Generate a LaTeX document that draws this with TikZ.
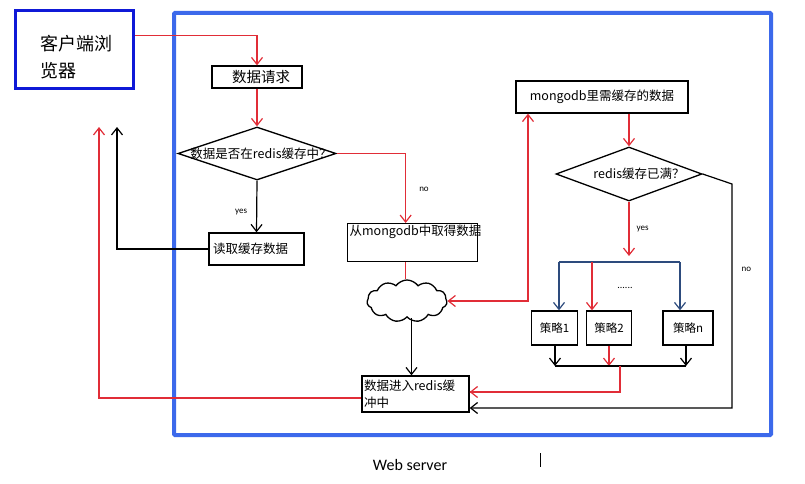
\documentclass[tikz,border=0pt]{standalone}
\usepackage{fontspec}
\setmainfont{Noto Sans CJK SC}
\newfontfamily\latinfont{Carlito}
\usetikzlibrary{arrows.meta,shapes.geometric,shapes.symbols}
\definecolor{flowRed}{RGB}{225,45,55}
\definecolor{frameBlue}{RGB}{60,105,235}
\definecolor{clientBlue}{RGB}{15,25,215}
\definecolor{branchBlue}{RGB}{45,75,125}

\tikzset{
  flowbox/.style={draw, line width=1.3pt, inner sep=2pt, font=\fontsize{12.5}{17}\selectfont},
  decision/.style={draw, diamond, line width=1.3pt, inner sep=0pt},
  boxtext/.style={font=\fontsize{12.5}{15}\selectfont, inner sep=0pt},
  smalllabel/.style={font=\latinfont\fontsize{9}{11}\selectfont, inner sep=1pt},
  barb/.style={-{Straight Barb[length=7pt,width=11pt]}},
  redline/.style={line width=1.2pt, draw=flowRed},
  redarrow/.style={redline, barb},
  blackline/.style={line width=1.2pt, draw=black},
  blackarrow/.style={blackline, barb},
  blueline/.style={line width=1.2pt, draw=branchBlue},
  bluearrow/.style={blueline, barb},
}

\begin{document}
\begin{tikzpicture}[x=1pt,y=-1pt]
  \useasboundingbox (0,0) rectangle (805,484);

  % web server frame and client
  \draw[line width=4pt, frameBlue, rounded corners=1pt] (174,13) rectangle (771,435);
  \node[draw=clientBlue, line width=3pt, minimum width=118pt, minimum height=78pt, anchor=north west] (client) at (14,9) {};
  \node[font=\fontsize{18}{27}\selectfont, align=left, anchor=west, inner sep=0pt] (clientText) at (40,57) {客户端浏\\览器};

  % left column
  \node[flowbox, font=\fontsize{14.5}{17}\selectfont, minimum width=90pt, minimum height=22pt] (request) at (257,77) {\hspace{8pt}数据请求};
  \node[decision, minimum width=158pt, minimum height=53pt] (inCache) at (257,153.5) {};
  \node[boxtext] (inCacheText) at ([xshift=4pt]inCache.center) {数据是否在redis缓存中？};
  \node[flowbox, text width=87pt, align=left, minimum height=32pt, inner xsep=4pt] (readCache) at (256.5,249) {读取缓存数据};

  % middle column
  \node[flowbox, text width=126pt, align=left, text height=10pt, text depth=24pt, anchor=north west] (mongoFetch) at (347,223) {从mongodb中取得数据};
  \node[cloud, draw, line width=1.3pt, cloud puffs=11, cloud puff arc=110, aspect=2, minimum width=80pt, minimum height=42pt, inner sep=0pt] (cloud) at (407,301) {};
  \node[flowbox, text width=103pt, align=left, minimum height=36pt] (storeCache) at (415.5,394) {数据进入redis缓\\冲中};

  % right column
  \node[flowbox, minimum width=172pt, minimum height=32pt] (mongoCache) at (602,97) {mongodb里需缓存的数据};
  \node[decision, minimum width=146pt, minimum height=54pt] (full) at (629,174) {};
  \node[boxtext] (fullText) at ([xshift=10pt]full.center) {redis缓存已满？};
  \node[flowbox, font=\fontsize{11.5}{14}\selectfont, minimum width=46pt, minimum height=34pt] (plan1) at (554.5,328) {策略1};
  \node[flowbox, font=\fontsize{11.5}{14}\selectfont, minimum width=45pt, minimum height=34pt] (plan2) at (609,328) {策略2};
  \node[flowbox, font=\fontsize{11.5}{14}\selectfont, minimum width=50pt, minimum height=34pt] (planN) at (688,328) {策略n};
  \node[font=\latinfont\fontsize{10}{12}\selectfont] (dots) at (625,288) {......};

  \coordinate (redTip) at (99,127);
  \coordinate (blackTip) at (117,127);
  \coordinate (noCorner) at (732,184);
  \coordinate (splitL) at (559,262);
  \coordinate (splitR) at (680,262);
  \coordinate (joinL) at (555,366);
  \coordinate (joinR) at (686,366);
  \coordinate (joinMid) at (620,366);

  % connectors
  \draw[redarrow] ([yshift=14pt]client.east) -| (request.north);
  \draw[redarrow] (request.south) -- (inCache.north);
  \draw[blackarrow] (inCache.south) -- node[smalllabel, pos=0.6, left=8pt] (yesLeft) {yes} (readCache.north);
  \draw[blackarrow] (readCache.west) -| (blackTip);
  \draw[redarrow] ([yshift=-4pt]storeCache.west) -| (redTip);
  \draw[redarrow] (inCache.east) -| node[smalllabel, pos=0.76, right=12pt] (noMid) {no} ([xshift=-7pt]mongoFetch.north);
  \draw[redline] ([xshift=-7pt]mongoFetch.south) -- ([xshift=-7pt]mongoFetch.south |- cloud.north);
  \draw[blackarrow] ([xshift=-4pt]storeCache.north |- cloud.south) -- ([xshift=-4pt]storeCache.north);
  \draw[redarrow, {Straight Barb[length=7pt,width=11pt]}-{Straight Barb[length=7pt,width=11pt]}] (cloud.east) -| ([xshift=-74pt]mongoCache.south);
  \draw[redarrow] (mongoCache.south -| full.north) -- (full.north);
  \draw[redarrow] (full.south) -- node[smalllabel, midway, right=6pt] (yesRight) {yes} ([yshift=6pt]full.south |- splitL);
  \draw[blackarrow] (full.east) -- (noCorner) |- node[smalllabel, pos=0.19, right=8pt] (noRight) {no} ([yshift=-14pt]storeCache.east);

  % strategies
  \draw[blueline] (splitL) -- (splitR);
  \draw[bluearrow] (splitL) -- (splitL |- plan1.north);
  \draw[bluearrow] (splitR) -- (splitR |- planN.north);
  \draw[redarrow] ([xshift=-17pt]plan2.north |- splitL) -- ([xshift=-17pt]plan2.north);
  \draw[blackarrow] (joinL |- plan1.south) -- (joinL);
  \draw[redarrow] (plan2.south) -- (plan2.south |- joinL);
  \draw[blackarrow] (joinR |- planN.south) -- (joinR);
  \draw[blackline] (joinL) -- (joinR);
  \draw[redline] (joinMid) |- ([yshift=2pt]storeCache.east);
  \draw[redarrow] ([yshift=2pt]storeCache.east -| joinMid) -- ([yshift=2pt]storeCache.east);

  % caption
  \node[font=\latinfont\fontsize{16}{19}\selectfont] (caption) at (410,465) {Web server};
  \draw[line width=0.8pt] (540,453) -- (540,467);
\end{tikzpicture}
\end{document}
